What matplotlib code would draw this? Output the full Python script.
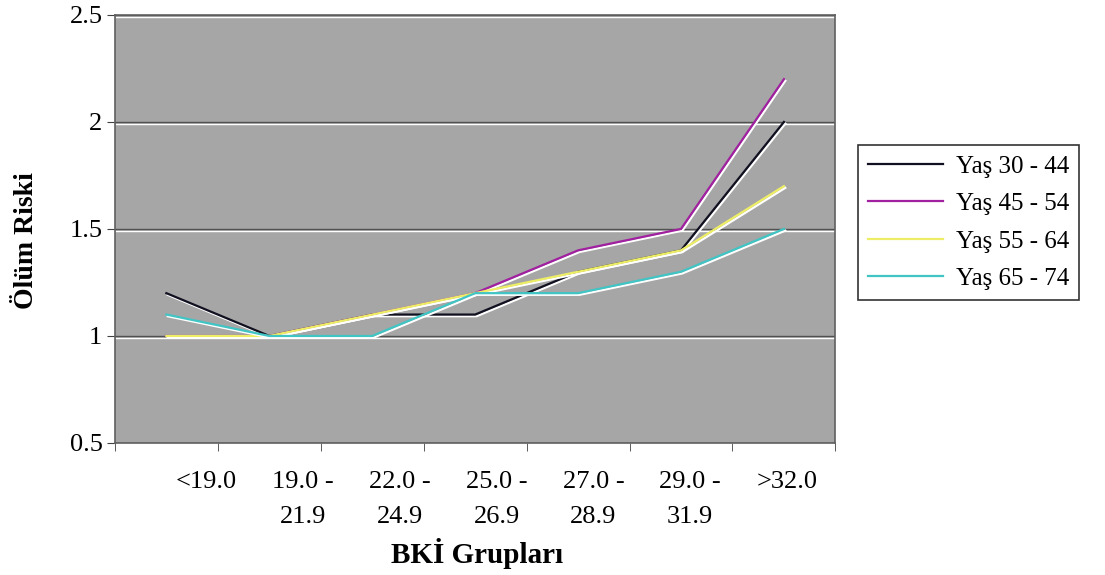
import numpy as np
import matplotlib.pyplot as plt
import matplotlib.patheffects as pe

# Veriler
gruplar = ["<19.0", "19.0 -\n21.9", "22.0 -\n24.9", "25.0 -\n26.9",
           "27.0 -\n28.9", "29.0 -\n31.9", ">32.0"]
yas_30_44 = [1.2, 1.0, 1.1, 1.1, 1.3, 1.4, 2.0]
yas_45_54 = [1.0, 1.0, 1.1, 1.2, 1.4, 1.5, 2.2]
yas_55_64 = [1.0, 1.0, 1.1, 1.2, 1.3, 1.4, 1.7]
yas_65_74 = [1.1, 1.0, 1.0, 1.2, 1.2, 1.3, 1.5]
etiketler = ["Yaş 30 - 44", "Yaş 45 - 54", "Yaş 55 - 64", "Yaş 65 - 74"]
renkler = ["#101020", "#a020a0", "#eeee66", "#40c4c4"]

plt.rcParams['font.family'] = ['Liberation Serif', 'DejaVu Serif']

fig = plt.figure(figsize=(11.05, 5.75), dpi=100)
ax = fig.add_axes([0.104, 0.2296, 0.652, 0.7444])
ax.set_facecolor("#a6a6a6")

x = np.arange(len(gruplar))
golge = [pe.SimpleLineShadow(offset=(1, -1.2), shadow_color="white", alpha=1), pe.Normal()]

seriler = [yas_30_44, yas_45_54, yas_55_64, yas_65_74]
for y, lab, c in zip(seriler, etiketler, renkler):
    ax.plot(x, y, color=c, lw=1.6, label=lab, path_effects=golge, zorder=3)

ax.set_xlim(-0.5, len(gruplar) - 0.5)
ax.set_ylim(0.5, 2.5)
ax.set_yticks([0.5, 1, 1.5, 2, 2.5])
ax.set_yticklabels(["0.5", "1", "1.5", "2", "2.5"])

# grid
ax.grid(axis="y", color="#505050", lw=1.0)
for gl in ax.get_ygridlines():
    gl.set_path_effects(golge)
ax.set_axisbelow(True)

# kategori etiketleri (Excel'deki gibi biraz sağa kaymış)
ax.set_xticks(0.39 + 0.94 * x)
ax.set_xticklabels(gruplar, fontsize=19, linespacing=1.75)
ax.tick_params(axis="x", which="major", length=0, pad=20)
ax.set_xticks(np.arange(len(gruplar) + 1) - 0.5, minor=True)
ax.tick_params(axis="x", which="minor", length=6, color="#404040", direction="out")
ax.tick_params(axis="y", length=6, color="#404040", labelsize=19, pad=3)

for s in ax.spines.values():
    s.set_color("#606060")
    s.set_linewidth(1.2)

ax.set_xlabel("BKİ Grupları", fontsize=21, fontweight="bold")
ax.xaxis.set_label_coords(0.503, -0.222)
ax.set_ylabel("Ölüm Riski", fontsize=20, fontweight="bold")
ax.yaxis.set_label_coords(-0.105, 0.474)

leg = ax.legend(loc="upper left", bbox_to_anchor=(1.032, 0.696), fontsize=18,
                frameon=True, fancybox=False, edgecolor="black",
                handlelength=3.0, labelspacing=0.6, borderpad=0.4,
                handletextpad=0.5, borderaxespad=0)
leg.get_frame().set_linewidth(1.2)

plt.savefig("out.png", dpi=100)
